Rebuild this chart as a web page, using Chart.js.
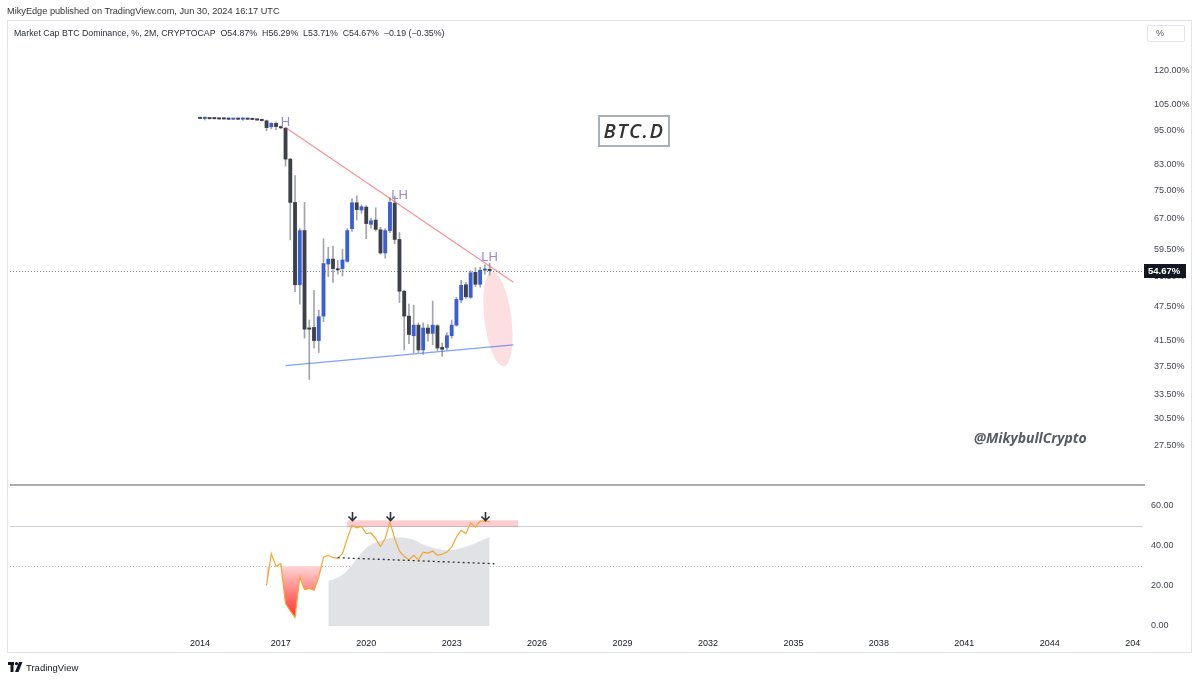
<!DOCTYPE html>
<html>
<head>
<meta charset="utf-8">
<script src="https://cdn.jsdelivr.net/npm/chart.js@4.4.1/dist/chart.umd.min.js"></script>
<style>
html,body{margin:0;padding:0;background:#fff;width:1200px;height:681px;overflow:hidden;font-family:"Liberation Sans",Arial,sans-serif;}
#wrap{position:relative;width:1200px;height:681px;}
#c{position:absolute;left:0;top:0;}
.t{position:absolute;white-space:nowrap;color:#2a2e39;}
</style>
</head>
<body>
<div id="wrap">
<canvas id="c" width="1200" height="681"></canvas>
<div class="t" style="left:7px;top:5px;font-size:9.2px;line-height:12px;color:#333;">MikyEdge published on TradingView.com, Jun 30, 2024 16:17 UTC</div>
<div class="t" id="legend" style="left:14px;top:27px;font-size:8.8px;line-height:12px;color:#2a2e39;"></div>
<div class="t" style="left:1147px;top:25px;width:38px;height:17px;box-sizing:border-box;border:1px solid #e0e3eb;border-radius:2px;font-size:9px;line-height:15px;padding-left:8px;color:#555;">%</div>
<div class="t" style="left:598px;top:115px;width:72px;height:32px;box-sizing:border-box;border:2px solid #aab0ba;text-align:center;font-family:'Open Sans',sans-serif;font-style:italic;font-weight:600;font-size:20px;line-height:28px;letter-spacing:1.5px;color:#333;">BTC.D</div>
<div class="t" style="left:974px;top:429px;font-family:'Open Sans',sans-serif;font-style:italic;font-weight:700;font-size:14px;line-height:18px;color:#555b66;">@MikybullCrypto</div>
<div class="t" style="left:8px;top:661px;height:14px;">
  <svg width="15" height="11" viewBox="0 0 15 11" style="position:absolute;left:0;top:1px;">
    <rect x="0" y="0" width="6" height="3" fill="#131722"/>
    <rect x="2.5" y="0" width="3" height="10" fill="#131722"/>
    <circle cx="8.5" cy="1.6" r="1.6" fill="#131722"/>
    <polygon points="11,0 14.5,0 10.5,10 7,10" fill="#131722"/>
  </svg>
  <span style="position:absolute;left:18px;top:0;font-size:9.5px;line-height:13px;color:#131722;">TradingView</span>
</div>
</div>
<script>
// ---------------- DATA ----------------
const candleDates = ['2014-03','2014-05','2014-07','2014-09','2014-11',
 '2015-01','2015-03','2015-05','2015-07','2015-09','2015-11',
 '2016-01','2016-03','2016-05','2016-07','2016-09','2016-11',
 '2017-01','2017-03','2017-05','2017-07','2017-09','2017-11',
 '2018-01','2018-03','2018-05','2018-07','2018-09','2018-11',
 '2019-01','2019-03','2019-05','2019-07','2019-09','2019-11',
 '2020-01','2020-03','2020-05','2020-07','2020-09','2020-11',
 '2021-01','2021-03','2021-05','2021-07','2021-09','2021-11',
 '2022-01','2022-03','2022-05','2022-07','2022-09','2022-11',
 '2023-01','2023-03','2023-05','2023-07','2023-09','2023-11',
 '2024-01','2024-03','2024-05'];
const opens = [99.6,99.5,99.6,99.4,99.4,
 99.3,99.3,99.2,99.3,99.2,99.4,
 99.2,99.1,98.9,98.6,96.3,97.6,
 96.3,95.8,84.8,71.5,51.7,64.0,
 43.6,43.7,41.5,45.7,56.1,57.2,
 55.0,55.1,56.7,64.5,71.4,69.4,
 70.2,65.6,66.7,64.2,58.6,64.0,
 71.3,61.8,50.4,45.7,42.3,44.1,
 40.0,43.6,42.7,44.0,40.4,40.4,
 42.3,44.1,48.7,51.7,49.2,54.3,
 51.8,54.75,54.87];
const highs = [99.7,100.2,99.7,99.5,99.5,
 99.4,99.4,99.4,99.4,99.9,99.5,
 99.3,99.2,99.0,98.9,97.9,98.2,
 96.6,96.0,85.0,79.5,64.5,71.5,
 45.0,50.6,46.8,62.0,59.9,60.2,
 56.9,59.5,64.5,72.5,73.4,70.8,
 70.6,67.2,70.0,64.8,64.5,72.8,
 73.3,63.5,50.6,47.9,47.7,44.5,
 44.5,44.2,48.5,44.2,41.1,42.8,
 45.0,49.2,52.6,52.2,54.6,55.3,
 55.4,55.9,56.29];
const lows = [99.4,98.9,99.3,99.3,99.2,
 99.2,99.1,99.1,99.1,98.8,99.1,
 99.0,98.8,98.5,94.8,95.5,95.2,
 95.6,82.5,61.7,50.3,47.9,41.9,
 35.6,40.3,39.6,44.7,53.4,52.2,
 53.9,53.5,56.5,63.8,66.7,68.5,
 62.0,64.6,63.9,58.3,57.4,63.5,
 60.8,48.2,40.0,41.0,39.5,39.6,
 39.3,41.4,40.8,39.9,39.0,40.0,
 41.9,43.9,48.2,49.0,49.0,51.3,
 51.2,53.9,53.71];
const closes = [99.5,99.6,99.4,99.4,99.3,
 99.3,99.2,99.3,99.2,99.4,99.2,
 99.1,98.9,98.7,96.0,97.6,96.4,
 95.9,84.8,71.5,51.7,64.0,43.4,
 43.4,41.5,45.6,56.2,57.2,55.1,
 54.8,57.0,64.0,71.4,69.5,70.3,
 65.8,66.5,64.3,58.6,64.0,71.5,
 61.8,50.4,45.7,42.5,44.1,40.0,
 43.6,42.7,44.1,40.3,40.1,42.3,
 44.1,48.8,51.6,49.3,54.2,51.8,
 54.75,54.86,54.67];

// RSI-type oscillator (starts with candle 2016-07)
const oscStart = '2016-07';
const oscValues = [20.3,36.0,29.7,31.0,11.2,7.5,4.3,24.4,18.1,18.7,17.8,24.4,
 34.3,35.2,34.0,33.8,36.0,43.5,50.1,48.9,49.6,46.0,46.3,43.5,39.6,43.5,51.7,43.5,
 37.3,34.7,33.0,35.2,33.0,36.8,36.3,37.3,35.2,35.7,36.8,39.3,44.3,47.6,46.0,51.3,
 49.2,52.2,52.2,52.0];
// grey smoothed area (starts with candle 2018-09)
const areaStart = '2018-09';
const areaValues = [22.4,23.2,24.2,25.5,27.5,30.5,33.5,36.3,38.8,40.5,41.6,42.4,43.0,
 43.7,44.0,44.1,44.0,43.5,42.9,41.8,40.6,39.8,39.0,38.5,38.0,37.7,37.8,38.2,38.7,
 39.5,40.3,41.2,42.3,43.3,44.3];

// drawings
const resistanceDates = ['2017-03','2025-03'];
const resistanceValues = [96.0, 52.2];
const supportDates = ['2017-03','2025-03'];
const supportValues = [37.6, 40.8];
const oscTrendDates = ['2019-01','2024-07'];
const oscTrendValues = [34.0, 31.0];
const oscZoneDates = ['2019-05','2025-05'];
const oscZoneValues = [49.3, 52.6];
const arrowDates = ['2019-07','2020-11','2024-03'];
const arrowValues = [56.8, 52.5];           // top / tip of the arrows
const ellipseDates = ['2024-06','2024-11'];
const ellipseValues = [54.4, 37.5];
const pivotLabels = ['H','LH','LH'];
const pivotDates = ['2017-03','2021-03','2024-05'];
const pivotValues = [97.9, 73.6, 57.6];

// axes
const priceTicks = [120,105,95,83,75,67,59.5,53.5,47.5,41.5,37.5,33.5,30.5,27.5];
const oscTicks = [0,20,40,60];
const oscLevels = [50, 30];
const yearLabels = [2014,2017,2020,2023,2026,2029,2032,2035,2038,2041,2044,2047];

// ---------------- HELPERS ----------------
const tOf = d => { const [yy, mm] = d.split('-').map(Number); return yy + (mm - 1) / 12; };
const candleT = candleDates.map(tOf);
const FONT = "'Liberation Sans', Arial, sans-serif";
const UP = '#3a5ed6', DOWN = '#3d4048', WICK = '#a2a5ad';

const last = closes.length - 1;
const chg = closes[last] - closes[last - 1];
const fmtS = v => (v < 0 ? '\u2212' : '+') + Math.abs(v).toFixed(2);
const SP = '\u00a0\u00a0';
document.getElementById('legend').textContent =
  'Market Cap BTC Dominance, %, 2M, CRYPTOCAP' + SP + 'O' + opens[last].toFixed(2) + '%' + SP + 'H' + highs[last].toFixed(2) +
  '%' + SP + 'L' + lows[last].toFixed(2) + '%' + SP + 'C' + closes[last].toFixed(2) + '%' + SP + fmtS(chg) +
  ' (' + fmtS(chg / closes[last - 1] * 100) + '%)';

// x-tick positions: first bar of the year if the year has bars, else Jan 1
const yearTickValues = yearLabels.map(yr => {
  const first = candleT.find(t => Math.floor(t + 1e-6) === yr);
  return first !== undefined ? first : yr;
});

const bodies = candleDates.map((d, i) => ({x: candleT[i], y: [opens[i], closes[i]]}));
const wicks = candleDates.map((d, i) => ({x: candleT[i], y: [lows[i], highs[i]]}));
const oscOff = candleDates.indexOf(oscStart);
const oscData = oscValues.map((v, i) => ({x: candleT[oscOff + i], y: v}));
const areaOff = candleDates.indexOf(areaStart);
const areaData = areaValues.map((v, i) => ({x: candleT[areaOff + i], y: v}));
const pairs = (ds, vs) => ds.map((d, i) => ({x: tOf(d), y: vs[i]}));

// ---------------- PLUGIN ----------------
const deco = {
  id: 'deco',
  beforeDatasetsDraw(chart) {
    const {ctx, chartArea: ca, scales: {x, y, y2}} = chart;
    ctx.save();
    oscLevels.forEach((lv, k) => {
      const py = Math.round(y2.getPixelForValue(lv)) + 0.5;
      ctx.beginPath();
      ctx.strokeStyle = k === 0 ? '#cfd2d9' : '#b9bcc4';
      ctx.lineWidth = 1;
      ctx.setLineDash(k === 0 ? [] : [1, 2]);
      ctx.moveTo(ca.left, py); ctx.lineTo(ca.right, py); ctx.stroke();
    });
    ctx.setLineDash([]);
    const sy = Math.round(y.bottom);
    ctx.fillStyle = '#a9acb4';
    ctx.fillRect(ca.left, sy - 1, ca.right - ca.left + 2, 2);
    const lp = Math.round(y.getPixelForValue(closes[last])) + 0.5;
    ctx.beginPath();
    ctx.strokeStyle = '#7d818c';
    ctx.setLineDash([1, 2]);
    ctx.moveTo(ca.left, lp); ctx.lineTo(ca.right, lp); ctx.stroke();
    ctx.setLineDash([]);
    const x1 = x.getPixelForValue(tOf(ellipseDates[0])), y1 = y.getPixelForValue(ellipseValues[0]);
    const x2 = x.getPixelForValue(tOf(ellipseDates[1])), y2p = y.getPixelForValue(ellipseValues[1]);
    const dx = x2 - x1, dy = y2p - y1, len = Math.hypot(dx, dy);
    ctx.beginPath();
    ctx.fillStyle = 'rgba(242,54,69,0.16)';
    ctx.ellipse((x1 + x2) / 2, (y1 + y2p) / 2, 13.5, len / 2, -Math.atan2(dx, dy), 0, Math.PI * 2);
    ctx.fill();
    const rx1 = x.getPixelForValue(tOf(oscZoneDates[0])), rx2 = x.getPixelForValue(tOf(oscZoneDates[1]));
    const ry1 = y2.getPixelForValue(oscZoneValues[1]), ry2 = y2.getPixelForValue(oscZoneValues[0]);
    ctx.fillStyle = 'rgba(242,54,69,0.25)';
    ctx.fillRect(rx1, ry1, rx2 - rx1, ry2 - ry1);
    ctx.restore();
  },
  afterDatasetsDraw(chart) {
    const {ctx, scales: {x, y, y2}} = chart;
    ctx.save();
    ctx.strokeStyle = '#2a2e39';
    ctx.lineWidth = 1.6;
    arrowDates.forEach(d => {
      const px = Math.round(x.getPixelForValue(tOf(d))) + 0.5;
      const top = y2.getPixelForValue(arrowValues[0]), tip = y2.getPixelForValue(arrowValues[1]);
      ctx.beginPath();
      ctx.moveTo(px, top); ctx.lineTo(px, tip);
      ctx.moveTo(px - 4, tip - 4); ctx.lineTo(px, tip); ctx.lineTo(px + 4, tip - 4);
      ctx.stroke();
    });
    ctx.fillStyle = '#9a88d4';
    ctx.font = '13px ' + FONT;
    ctx.textAlign = 'center';
    ctx.textBaseline = 'middle';
    pivotLabels.forEach((s, i) => {
      ctx.fillText(s, x.getPixelForValue(tOf(pivotDates[i])), y.getPixelForValue(pivotValues[i]));
    });
    ctx.restore();
  },
  afterDraw(chart) {
    const {ctx, chartArea: ca, scales: {y}} = chart;
    ctx.save();
    ctx.fillStyle = '#fff';
    ctx.fillRect(ca.right - 2, ca.bottom + 1, 48, 21);
    const py = Math.round(y.getPixelForValue(closes[last]));
    ctx.fillStyle = '#131722';
    ctx.fillRect(ca.right + 1, py - 7, 42, 14);
    ctx.fillStyle = '#fff';
    ctx.font = 'bold 9.5px ' + FONT;
    ctx.textAlign = 'left';
    ctx.textBaseline = 'middle';
    ctx.fillText(closes[last].toFixed(2) + '%', ca.right + 5, py + 0.5);
    ctx.strokeStyle = '#e0e3eb';
    ctx.lineWidth = 1;
    ctx.strokeRect(7.5, 20.5, 1184, 632);
    ctx.restore();
  }
};

// ---------------- CHART ----------------
Chart.defaults.font.family = FONT;
new Chart(document.getElementById('c'), {
  type: 'bar',
  data: {
    datasets: [
      {type: 'line', label: 'resistance', data: pairs(resistanceDates, resistanceValues), yAxisID: 'y',
       borderColor: 'rgba(242,54,69,0.55)', borderWidth: 1.2, pointRadius: 0, fill: false, order: 0},
      {type: 'line', label: 'support', data: pairs(supportDates, supportValues), yAxisID: 'y',
       borderColor: 'rgba(41,98,255,0.6)', borderWidth: 1.2, pointRadius: 0, fill: false, order: 0},
      {type: 'line', label: 'osc trend', data: pairs(oscTrendDates, oscTrendValues), yAxisID: 'y2',
       borderColor: '#2a2e39', borderWidth: 1.3, borderDash: [2, 3], pointRadius: 0, fill: false, order: 0},
      {type: 'bar', label: 'bodies', data: bodies, yAxisID: 'y', grouped: false,
       barThickness: 3.2, minBarLength: 1.3, borderWidth: 0,
       backgroundColor: c => (c.raw && c.raw.y[1] > c.raw.y[0]) ? UP : DOWN, order: 2},
      {type: 'bar', label: 'wicks', data: wicks, yAxisID: 'y', grouped: false,
       barThickness: 1, borderWidth: 0, backgroundColor: WICK, order: 3},
      {type: 'line', label: 'oscillator', data: oscData, yAxisID: 'y2',
       borderColor: '#f6a530', borderWidth: 1.2, pointRadius: 0, tension: 0,
       fill: {target: {value: 30}, above: 'rgba(0,0,0,0)'},
       backgroundColor: c => {
         const ch = c.chart, s = ch.scales && ch.scales.y2;
         if (!ch.chartArea || !s) return 'rgba(255,80,80,0.5)';
         const g = ch.ctx.createLinearGradient(0, s.getPixelForValue(30), 0, s.getPixelForValue(4));
         g.addColorStop(0, 'rgba(255,214,214,1)');
         g.addColorStop(1, 'rgba(255,45,45,1)');
         return g;
       }, order: 1},
      {type: 'line', label: 'area', data: areaData, yAxisID: 'y2',
       borderWidth: 0, borderColor: 'rgba(0,0,0,0)', backgroundColor: '#e1e2e6', pointRadius: 0,
       tension: 0.35, fill: 'origin', order: 6}
    ]
  },
  options: {
    responsive: false,
    animation: false,
    devicePixelRatio: 1,
    layout: {padding: {left: 10, top: 22, right: 8, bottom: 28}},
    plugins: {legend: {display: false}, tooltip: {enabled: false}},
    scales: {
      x: {
        type: 'linear', position: 'bottom', offset: false,
        min: 2007.492, max: 2047.274,
        afterBuildTicks: s => { s.ticks = yearTickValues.map(v => ({value: v})); },
        afterFit: s => { s.height = 23; },
        grid: {display: false, drawTicks: false}, border: {display: false},
        ticks: {autoSkip: false, maxRotation: 0, padding: 8, color: '#131722', font: {size: 9}},
        // labels
        ticks_callback: null
      },
      y: {
        type: 'logarithmic', position: 'right', stack: 'panes', stackWeight: 463,
        min: 23.5, max: 145.5,
        afterBuildTicks: s => { s.ticks = priceTicks.map(v => ({value: v})); },
        afterFit: s => { s.width = 49; },
        grid: {display: false, drawTicks: false}, border: {display: false},
        ticks: {autoSkip: false, padding: 11, color: '#434651', font: {size: 9},
                callback: v => Number(v).toFixed(2) + '%'}
      },
      y2: {
        type: 'linear', position: 'right', stack: 'panes', stackWeight: 145,
        min: -2, max: 70.2,
        afterBuildTicks: s => { s.ticks = oscTicks.map(v => ({value: v})); },
        afterFit: s => { s.width = 49; },
        grid: {display: false, drawTicks: false}, border: {display: false},
        ticks: {autoSkip: false, padding: 8, color: '#434651', font: {size: 9},
                callback: v => Number(v).toFixed(2)}
      }
    }
  },
  plugins: [deco]
});
// x labels: year of each tick
Chart.getChart('c').options.scales.x.ticks.callback = v => String(Math.floor(v + 1e-6));
Chart.getChart('c').update('none');
</script>
</body>
</html>
